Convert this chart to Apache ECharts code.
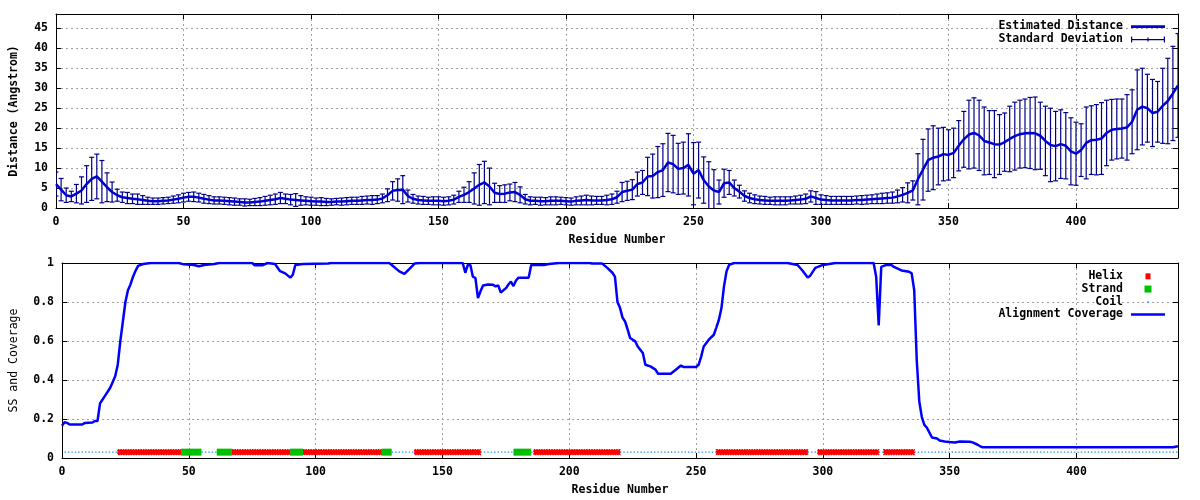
<!DOCTYPE html>
<html><head><meta charset="utf-8">
<script src="https://cdn.jsdelivr.net/npm/echarts@6/dist/echarts.min.js"></script>
<style>html,body{margin:0;padding:0;background:#fff}#c{width:1200px;height:500px}</style>
</head><body><div id="c"></div>
<script>
// ---------- DATA ----------
const xTickLabels = ['0','50','100','150','200','250','300','350','400'];
const distTickLabels = ['0','5','10','15','20','25','30','35','40','45'];
const covTickLabels = ['0','0.2','0.4','0.6','0.8','1'];

const residues = [
0,2,4,6,8,10,12,14,16,18, 20,22,24,26,28,30,32,34,36,38,
40,42,44,46,48,50,52,54,56,58, 60,62,64,66,68,70,72,74,76,78,
80,82,84,86,88,90,92,94,96,98, 100,102,104,106,108,110,112,114,116,118,
120,122,124,126,128,130,132,134,136,138, 140,142,144,146,148,150,152,154,156,158,
160,162,164,166,168,170,172,174,176,178, 180,182,184,186,188,190,192,194,196,198,
200,202,204,206,208,210,212,214,216,218, 220,222,224,226,228,230,232,234,236,238,
240,242,244,246,248,250,252,254,256,258, 260,262,264,266,268,270,272,274,276,278,
280,282,284,286,288,290,292,294,296,298, 300,302,304,306,308,310,312,314,316,318,
320,322,324,326,328,330,332,334,336,338, 340,342,344,346,348,350,352,354,356,358,
360,362,364,366,368,370,372,374,376,378, 380,382,384,386,388,390,392,394,396,398,
400,402,404,406,408,410,412,414,416,418, 420,422,424,426,428,430,432,434,436,438,
440];

const distMean = [
6.0,4.6,3.2,2.9,3.6,4.4,6.0,7.3,7.9,6.6, 5.2,4.0,3.2,2.7,2.5,2.3,2.2,2.0,1.8,1.7,
1.7,1.8,1.9,2.1,2.3,2.6,2.8,2.8,2.6,2.3, 2.1,1.9,1.9,1.8,1.7,1.6,1.5,1.4,1.4,1.5,
1.6,1.8,2.0,2.2,2.5,2.3,2.1,2.0,1.9,1.8, 1.7,1.6,1.6,1.5,1.5,1.6,1.6,1.7,1.8,1.8,
1.9,2.0,2.0,2.1,2.4,3.2,4.3,4.5,4.6,3.0, 2.3,2.0,1.9,1.8,1.8,1.8,1.7,1.8,2.1,2.8,
3.3,4.0,4.9,5.8,6.4,5.4,3.8,3.5,3.6,3.9, 4.0,3.3,2.2,1.8,1.8,1.7,1.7,1.8,1.8,1.8,
1.7,1.6,1.8,1.9,2.0,1.9,1.9,1.9,2.0,2.2, 2.7,4.0,4.3,4.6,6.0,6.4,7.9,8.0,9.0,9.5,
11.4,11.0,9.8,10.0,10.8,8.6,9.5,7.0,5.4,4.4, 4.0,6.2,6.4,5.0,4.1,3.0,2.5,2.2,2.0,1.9,
1.8,1.8,1.8,1.8,1.9,2.0,2.1,2.3,2.9,2.5, 2.1,2.0,1.9,1.9,1.9,1.9,1.9,2.0,2.0,2.1,
2.2,2.3,2.4,2.5,2.6,2.9,3.3,3.8,4.4,7.2, 9.6,12.0,12.6,12.9,13.5,13.3,13.8,15.6,17.2,18.4,
18.8,18.2,16.8,16.4,16.0,15.9,16.5,17.3,18.0,18.5, 18.7,18.8,18.7,18.1,16.8,15.8,15.5,16.0,15.6,14.2,
13.6,14.5,16.3,17.0,17.1,17.4,18.8,19.6,19.8,19.9, 20.2,21.6,24.6,25.4,25.0,23.8,24.1,25.6,26.8,28.7,
30.7];

const distSD = [
3.0,2.8,1.8,1.3,2.3,3.4,4.6,5.4,5.6,5.3, 3.6,2.5,1.5,1.3,1.4,1.2,1.3,1.1,0.9,0.8,
0.8,0.8,0.8,0.9,1.0,1.1,1.1,1.2,1.1,1.1, 1.0,0.9,0.9,0.9,0.9,0.9,0.8,0.9,0.8,0.9,
1.0,1.1,1.2,1.3,1.4,1.2,1.3,1.6,1.2,1.0, 1.0,0.9,1.0,0.9,0.8,0.8,0.9,0.9,0.9,0.9,
1.0,1.0,1.1,1.0,1.1,1.6,2.3,2.8,3.5,1.5, 1.1,1.0,1.0,0.9,1.0,1.0,1.0,1.0,1.1,1.4,
1.9,2.6,3.9,5.1,5.3,4.6,2.4,2.1,2.2,2.1, 2.4,2.0,1.2,1.0,0.9,1.0,0.9,1.0,1.0,0.9,
0.9,0.9,1.0,1.1,1.2,1.1,1.0,1.0,1.2,1.3, 1.5,2.4,2.4,2.5,3.0,3.0,4.8,5.5,6.4,6.6,
7.3,7.2,6.4,6.5,7.8,7.8,7.0,5.8,6.2,5.2, 3.0,3.5,3.0,2.0,1.6,1.3,1.2,1.1,1.0,1.0,
0.9,1.0,1.0,1.0,0.9,1.0,1.1,1.2,1.4,1.6, 1.2,1.1,1.0,1.0,1.0,1.0,1.0,1.0,1.1,1.1,
1.1,1.2,1.3,1.3,1.4,1.6,1.8,2.5,2.4,6.4, 7.6,7.8,8.0,7.1,6.7,6.3,6.2,6.3,7.0,8.6,
8.8,8.8,8.5,8.0,8.4,7.5,7.3,8.2,8.5,8.5, 8.6,8.9,9.1,8.4,8.7,9.2,8.7,8.6,8.3,8.4,
7.9,6.6,9.0,8.6,8.8,9.0,8.2,7.6,7.5,7.4, 8.2,8.0,10.0,9.6,8.5,8.4,7.6,9.4,10.7,11.8,
13.0];

const covResidue = [0,1,2,3,8,9,12,13,14,15,16,17,18,19,20,21,22,23,24,25,26,27,28,29,30,32,35,46,48,52,54,56,60,62,75,76,79,81,84,86,88,90,91,92,95,105,106,129,130,133,135,137,139,141,158,159,160,161,162,163,164,165,166,168,170,171,172,173,174,175,176,177,178,179,180,184,185,190,192,196,208,209,213,215,217,218,219,220,221,222,223,224,226,227,229,230,232,234,235,240,242,244,245,250,251,252,253,255,257,258,259,260,261,262,263,265,286,290,292,294,295,297,300,305,320,321,322,323,325,327,328,331,334,335,336,337,338,339,340,341,342,343,345,346,348,350,352,354,358,359,361,362,363,438,439,440];
const covValue = [0.165,0.183,0.18,0.172,0.172,0.18,0.182,0.19,0.19,0.28,0.30,0.32,0.34,0.36,0.39,0.42,0.48,0.60,0.70,0.80,0.86,0.89,0.93,0.96,0.985,0.995,1.0,1.0,0.993,0.99,0.983,0.99,0.995,1.0,1.0,0.988,0.988,1.0,0.995,0.958,0.947,0.925,0.94,0.99,0.995,0.997,1.0,1.0,0.99,0.957,0.944,0.97,0.997,1.0,1.0,0.95,0.99,0.99,0.93,0.923,0.82,0.855,0.885,0.89,0.888,0.88,0.885,0.848,0.86,0.87,0.89,0.905,0.882,0.91,0.925,0.925,0.99,0.99,0.995,1.0,1.0,0.997,0.997,0.975,0.95,0.93,0.80,0.77,0.72,0.70,0.66,0.615,0.598,0.572,0.538,0.478,0.47,0.453,0.432,0.432,0.453,0.474,0.467,0.467,0.478,0.52,0.572,0.607,0.632,0.67,0.709,0.769,0.88,0.957,0.99,1.0,1.0,0.99,0.96,0.926,0.935,0.975,0.99,1.0,1.0,0.93,0.68,0.98,0.99,0.99,0.98,0.962,0.955,0.947,0.86,0.50,0.29,0.21,0.17,0.155,0.13,0.105,0.10,0.09,0.085,0.082,0.08,0.085,0.083,0.08,0.068,0.06,0.055,0.055,0.058,0.06];

const ssLevel = 0.03;
const helixRanges  = [[22,47],[67,90],[95,126],[139,165],[186,220],[258,294],[298,322],[324,336]];
const strandRanges = [[47,55],[61,67],[90,95],[126,130],[178,185]];
const coilRanges   = [[1,22],[55,61],[130,139],[165,178],[185,186],[220,258],[294,298],[322,324],[336,440]];

// ---------- CHART ----------
const FONT = 'DejaVu Sans Mono';
const txt = {fontFamily: FONT, fontWeight: 'bold', fontSize: 11.5, color: '#000'};
const gridLine = {show: true, showMinLine: false, showMaxLine: false, lineStyle: {color: '#a0a0a0', type: [2, 3], width: 1}};
const axLine = {show: true, onZero: false, lineStyle: {color: '#000', width: 1}};
const axTick = {show: true, inside: true, length: 5, lineStyle: {color: '#000'}};

function makeLabelFmt(list) {
  return function (v) { const s = String(+v.toFixed(4)); return list.indexOf(s) >= 0 ? s : ''; };
}

const xBase = {type: 'value', min: 0, max: 440, interval: 50, axisLine: axLine, axisTick: axTick};
const xAxes = [
  Object.assign({}, xBase, {gridIndex: 0, position: 'bottom', splitLine: gridLine,
    axisLabel: Object.assign({margin: 8, showMaxLabel: false, formatter: makeLabelFmt(xTickLabels)}, txt),
    name: 'Residue Number', nameLocation: 'middle', nameGap: 26, nameTextStyle: txt}),
  Object.assign({}, xBase, {gridIndex: 1, position: 'bottom', splitLine: gridLine,
    axisLabel: Object.assign({margin: 8, showMaxLabel: false, formatter: makeLabelFmt(xTickLabels)}, txt),
    name: 'Residue Number', nameLocation: 'middle', nameGap: 26, nameTextStyle: txt}),
  Object.assign({}, xBase, {gridIndex: 0, position: 'top', splitLine: {show: false}, axisLabel: {show: false}}),
  Object.assign({}, xBase, {gridIndex: 1, position: 'top', splitLine: {show: false}, axisLabel: {show: false}})
];
const yDist = {type: 'value', min: 0, max: 48.6, interval: 5, axisLine: axLine, axisTick: axTick};
const yCov = {type: 'value', min: 0, max: 1, interval: 0.2, axisLine: axLine, axisTick: axTick};
const yAxes = [
  Object.assign({}, yDist, {gridIndex: 0, position: 'left', splitLine: gridLine,
    axisLabel: Object.assign({margin: 8, showMaxLabel: false, formatter: makeLabelFmt(distTickLabels)}, txt),
    name: 'Distance (Angstrom)', nameLocation: 'middle', nameGap: 36, nameTextStyle: txt}),
  Object.assign({}, yCov, {gridIndex: 1, position: 'left', splitLine: gridLine,
    axisLabel: Object.assign({margin: 8, formatter: makeLabelFmt(covTickLabels)}, txt),
    name: 'SS and Coverage', nameLocation: 'middle', nameGap: 42,
    nameTextStyle: Object.assign({}, txt, {fontWeight: 'normal'})}),
  Object.assign({}, yDist, {gridIndex: 0, position: 'right', splitLine: {show: false}, axisLabel: {show: false}}),
  Object.assign({}, yCov, {gridIndex: 1, position: 'right', splitLine: {show: false}, axisLabel: {show: false}})
];

const distColor = '#0000d0';
const sdColor = '#000088';
const covColor = '#0000ff';
const helixColor = '#ff0000';
const strandColor = '#00c000';
const coilColor = '#1e90ff';

function errRender(params, api) {
  const x = api.value(0), m = api.value(1), s = api.value(2);
  const t = api.coord([x, m + s]), b = api.coord([x, m - s]);
  const hw = 2.5;
  const st = {stroke: sdColor, lineWidth: 1.2};
  return {type: 'group', children: [
    {type: 'line', shape: {x1: t[0], y1: t[1], x2: b[0], y2: b[1]}, style: st},
    {type: 'line', shape: {x1: t[0] - hw, y1: t[1], x2: t[0] + hw, y2: t[1]}, style: st},
    {type: 'line', shape: {x1: b[0] - hw, y1: b[1], x2: b[0] + hw, y2: b[1]}, style: st}
  ]};
}
function bandRender(color, h, dashed) {
  return function (params, api) {
    const a = api.coord([api.value(0), api.value(2)]);
    const b = api.coord([api.value(1), api.value(2)]);
    const style = {fill: color};
    if (dashed) { style.stroke = color; style.lineWidth = 1.2; style.lineDash = [1.5, 1]; }
    return {type: 'rect', shape: {x: a[0], y: a[1] - h / 2, width: b[0] - a[0], height: h}, style: style};
  };
}
function coilRender(params, api) {
  const a = api.coord([api.value(0), api.value(2)]);
  const b = api.coord([api.value(1), api.value(2)]);
  return {type: 'line', shape: {x1: a[0], y1: a[1], x2: b[0], y2: b[1]},
    style: {stroke: coilColor, lineWidth: 1.4, lineDash: [1.4, 2]}};
}

const legendText = Object.assign({}, txt, {lineHeight: 13, padding: [0, 3, 0, 0]});
const lineIcon = 'path://M0,0M0,9M0,3.3h34v2.6h-34z';

const option = {
  animation: false,
  backgroundColor: '#fff',
  grid: [
    {left: 52, top: 14, width: 1126, height: 194},
    {left: 58, top: 263, width: 1120, height: 195}
  ],
  xAxis: xAxes,
  yAxis: yAxes,
  legend: [
    {orient: 'vertical', align: 'right', right: 35, top: 20, padding: 0, itemWidth: 34, itemHeight: 9, itemGap: 0,
     selectedMode: false, textStyle: legendText,
     data: [
       {name: 'Estimated Distance', icon: lineIcon},
       {name: 'Standard Deviation', icon: 'path://M0,4h34v1.2h-34z M0,1.5h1.2v6h-1.2z M32.8,1.5h1.2v6h-1.2z M16.4,2.5h1.2v4h-1.2z'}
     ]},
    {orient: 'vertical', align: 'right', right: 35, top: 270, padding: 0, itemWidth: 34, itemHeight: 9, itemGap: 0,
     selectedMode: false, textStyle: Object.assign({}, legendText, {lineHeight: 12.7}),
     data: [
       {name: 'Helix', icon: 'path://M0,0M0,9M0,1.5h5v6h-5z'},
       {name: 'Strand', icon: 'path://M0,0M0,9M0,1h7v7h-7z'},
       {name: 'Coil', icon: 'path://M0,0M0,9M9,9M4,4h1.5v1.5h-1.5z'},
       {name: 'Alignment Coverage', icon: lineIcon}
     ]}
  ],
  series: [
    {name: 'Standard Deviation', type: 'custom', xAxisIndex: 0, yAxisIndex: 0, clip: true, silent: true,
     itemStyle: {color: sdColor}, encode: {x: 0, y: 1}, renderItem: errRender, z: 2,
     data: residues.map((r, i) => [r, distMean[i], distSD[i]])},
    {name: 'Estimated Distance', type: 'line', xAxisIndex: 0, yAxisIndex: 0, symbol: 'none', silent: true,
     lineStyle: {color: distColor, width: 2.5}, itemStyle: {color: distColor}, z: 3,
     data: residues.map((r, i) => [r, distMean[i]])},
    {name: 'Coil', type: 'custom', xAxisIndex: 1, yAxisIndex: 1, silent: true, itemStyle: {color: coilColor},
     encode: {x: [0, 1], y: 2}, renderItem: coilRender, z: 2,
     data: coilRanges.map(r => [r[0], r[1], ssLevel])},
    {name: 'Helix', type: 'custom', xAxisIndex: 1, yAxisIndex: 1, silent: true, itemStyle: {color: helixColor},
     encode: {x: [0, 1], y: 2}, renderItem: bandRender(helixColor, 5, true), z: 3,
     data: helixRanges.map(r => [r[0], r[1], ssLevel])},
    {name: 'Strand', type: 'custom', xAxisIndex: 1, yAxisIndex: 1, silent: true, itemStyle: {color: strandColor},
     encode: {x: [0, 1], y: 2}, renderItem: bandRender(strandColor, 7, false), z: 3,
     data: strandRanges.map(r => [r[0], r[1], ssLevel])},
    {name: 'Alignment Coverage', type: 'line', xAxisIndex: 1, yAxisIndex: 1, symbol: 'none', silent: true,
     lineStyle: {color: covColor, width: 2.5}, itemStyle: {color: covColor}, z: 4,
     data: covResidue.map((r, i) => [r, covValue[i]])}
  ]
};
const chart = echarts.init(document.getElementById('c'), null, {renderer: 'canvas'});
chart.setOption(option);
</script>
</body></html>
